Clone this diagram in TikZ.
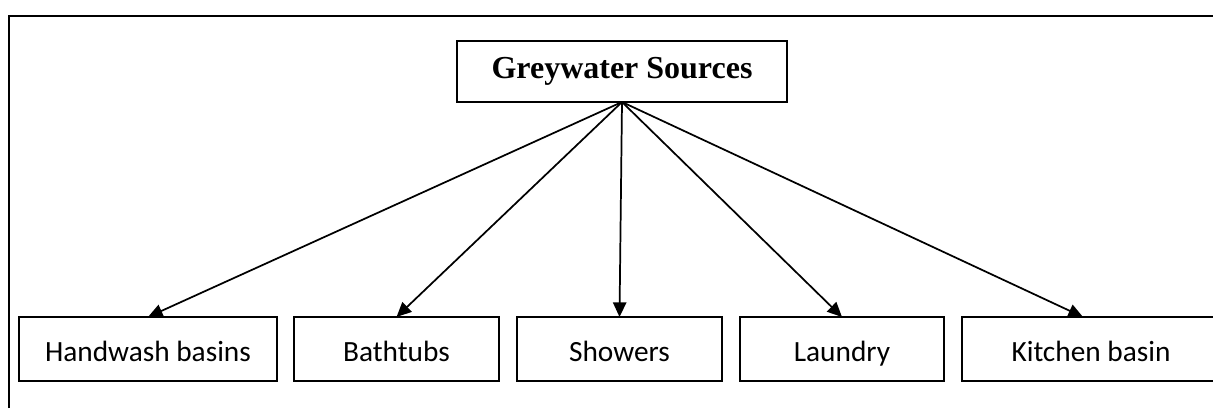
\documentclass[tikz,border=0pt]{standalone}
\usepackage{fontspec}
\setmainfont{Liberation Serif}
\newfontfamily\calfont{Carlito}
\usetikzlibrary{arrows.meta}
\begin{document}
\begin{tikzpicture}[x=0.75pt,y=-0.75pt,
  srcbox/.style={draw,line width=1.3pt,inner sep=0pt,outer sep=0pt,
    minimum width=330*0.75pt,minimum height=61*0.75pt,
    font=\fontsize{24}{28}\selectfont\bfseries},
  leafbox/.style={draw,line width=1.3pt,inner sep=0pt,outer sep=0pt,
    minimum height=64*0.75pt,text height=18pt,text depth=0pt,
    font=\calfont\fontsize{22}{26}\selectfont},
  arr/.style={line width=1.3pt,-{Triangle[length=11pt,width=10pt]}}]
\useasboundingbox (0,0) rectangle (1213,408);
% outer frame (only left and top visible)
\draw[line width=1.7pt] (9,408) -- (9,16) -- (1213,16);
\node[srcbox] (src) at (622,71.5) {Greywater Sources};
\coordinate (apex) at (622,102);
\node[leafbox,minimum width=258*0.75pt] (h) at (148,349) {Handwash basins};
\node[leafbox,minimum width=205*0.75pt] (b) at (396.5,349) {Bathtubs};
\node[leafbox,minimum width=205*0.75pt] (s) at (619.5,349) {Showers};
\node[leafbox,minimum width=204*0.75pt] (l) at (842,349) {Laundry};
\node[leafbox,minimum width=258*0.75pt] (k) at (1091,349) {Kitchen basin};
\coordinate (kt) at (1083,317);
\draw[arr] (apex) -- (h.north);
\draw[arr] (apex) -- (b.north);
\draw[arr] (apex) -- (s.north);
\draw[arr] (apex) -- (l.north);
\draw[arr] (apex) -- (kt);
\end{tikzpicture}
\end{document}
